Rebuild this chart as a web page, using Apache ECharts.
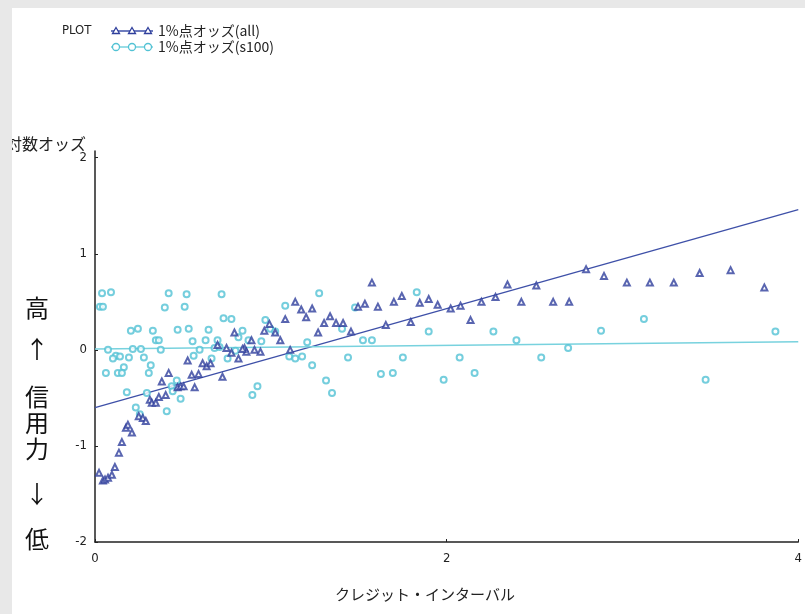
<!DOCTYPE html>
<html><head><meta charset="utf-8">
<script src="https://cdn.jsdelivr.net/npm/echarts@6/dist/echarts.min.js"></script>
<style>html,body{margin:0;padding:0;background:#fff}#c{width:805px;height:614px}</style>
</head><body><div id="c"></div>
<script>
// 1%点オッズ(all) : [credit interval, log odds]
const allPts = [
[0.023,-1.28],[0.045,-1.36],[0.057,-1.35],[0.074,-1.33],[0.096,-1.30],[0.113,-1.22],[0.136,-1.07],[0.153,-0.96],
[0.176,-0.81],[0.187,-0.78],[0.210,-0.86],[0.249,-0.69],[0.272,-0.71],[0.289,-0.74],[0.312,-0.52],[0.323,-0.55],
[0.346,-0.55],[0.363,-0.49],[0.402,-0.47],[0.380,-0.33],[0.419,-0.24],[0.470,-0.39],[0.487,-0.38],[0.504,-0.38],
[0.567,-0.39],[0.527,-0.11],[0.550,-0.26],[0.589,-0.25],[0.612,-0.14],[0.635,-0.17],[0.657,-0.14],[0.725,-0.28],
[0.748,0.02],[0.776,-0.03],[0.816,-0.09],[0.793,0.18],[0.850,0.02],[0.861,-0.02],[0.907,0.00],[0.941,-0.02],
[0.890,0.10],[0.963,0.20],[0.992,0.27],[1.025,0.18],[1.054,0.10],[0.839,0.01],[0.697,0.05],[1.082,0.32],
[1.110,0.00],[1.139,0.50],[1.173,0.42],[1.201,0.34],[1.235,0.43],[1.269,0.18],[1.303,0.28],[1.337,0.35],
[1.371,0.28],[1.411,0.28],[1.456,0.19],[1.496,0.45],[1.535,0.48],[1.575,0.70],[1.609,0.45],[1.654,0.26],
[1.700,0.50],[1.745,0.56],[1.796,0.29],[1.847,0.49],[1.898,0.53],[1.949,0.47],[2.023,0.43],[2.079,0.46],
[2.136,0.31],[2.198,0.50],[2.278,0.55],[2.346,0.68],[2.425,0.50],[2.510,0.67],[2.606,0.50],[2.697,0.50],
[2.793,0.84],[2.895,0.77],[3.025,0.70],[3.156,0.70],[3.292,0.70],[3.439,0.80],[3.615,0.83],[3.807,0.65]
];
// 1%点オッズ(s100)
const s100Pts = [
[0.040,0.59],[0.091,0.60],[0.419,0.59],[0.521,0.58],[0.720,0.58],[0.028,0.45],[0.045,0.45],[0.397,0.44],
[0.510,0.45],[0.204,0.20],[0.244,0.22],[0.329,0.20],[0.470,0.21],[0.533,0.22],[0.646,0.21],[0.731,0.33],
[0.776,0.32],[0.969,0.31],[0.839,0.20],[0.346,0.10],[0.363,0.10],[0.816,0.13],[0.873,0.10],[0.555,0.09],
[0.629,0.10],[0.697,0.10],[0.946,0.09],[0.074,0.00],[0.215,0.01],[0.261,0.01],[0.374,0.00],[0.595,0.00],
[0.680,0.02],[0.708,0.03],[0.799,-0.01],[0.119,-0.06],[0.142,-0.07],[0.102,-0.09],[0.193,-0.08],[0.278,-0.08],
[0.164,-0.18],[0.317,-0.16],[0.062,-0.24],[0.130,-0.24],[0.153,-0.24],[0.306,-0.24],[0.561,-0.06],[0.663,-0.09],
[0.754,-0.09],[0.465,-0.32],[0.436,-0.38],[0.442,-0.43],[0.487,-0.51],[0.408,-0.64],[0.295,-0.45],[0.181,-0.44],
[0.232,-0.60],[0.255,-0.67],[0.924,-0.38],[0.895,-0.47],[1.275,0.59],[1.082,0.46],[0.997,0.22],[1.025,0.19],
[1.207,0.08],[1.405,0.22],[1.479,0.44],[1.830,0.60],[1.898,0.19],[1.524,0.10],[1.575,0.10],[1.105,-0.07],
[1.139,-0.09],[1.178,-0.07],[1.235,-0.16],[1.439,-0.08],[1.751,-0.08],[1.314,-0.32],[1.348,-0.45],[1.626,-0.25],
[1.694,-0.24],[2.266,0.19],[2.397,0.10],[2.074,-0.08],[2.538,-0.08],[2.691,0.02],[2.159,-0.24],[1.983,-0.31],
[2.878,0.20],[3.122,0.32],[3.473,-0.31],[3.870,0.19]
];
// fitted lines
const allFit = [[0,-0.60],[4,1.46]];
const s100Fit = [[0,0.01],[4,0.085]];
const xTicks = [0,2,4];
const yTicks = [-2,-1,0,1,2];

const C_ALL = '#2f3f9c', C_ALL_L = '#3e50a8';
const C_S = '#52c2d4', C_S_L = '#78d2de';
const numFont = "'Liberation Sans Narrow','DejaVu Sans Condensed',sans-serif";
const jpFont = "'Noto Sans CJK JP',sans-serif";

const chart = echarts.init(document.getElementById('c'), null, {renderer:'canvas'});
const tri = (cx,cy)=>({type:'polygon',shape:{points:[[cx,cy-3.5],[cx+3.5,cy+2.5],[cx-3.5,cy+2.5]]},style:{fill:'#fff',stroke:C_ALL,lineWidth:1.3},z:20});
const cir = (cx,cy)=>({type:'circle',shape:{cx:cx,cy:cy,r:3.5},style:{fill:'#fff',stroke:C_S,lineWidth:1.3},z:20});
const sideChars = [['高',308],['↑',349],['信',397],['用',423],['力',449],['↓',494],['低',539]];

chart.setOption({
  animation:false,
  backgroundColor:'#fff',
  grid:{left:95,right:4,top:151,bottom:72},
  xAxis:{type:'value',min:0,max:4,
    axisLine:{onZero:false,lineStyle:{color:'#222',width:1.5}},
    axisTick:{show:true,inside:true,length:3,lineStyle:{color:'#222'},customValues:xTicks},
    axisLabel:{color:'#222',fontSize:13,fontFamily:numFont,margin:10,customValues:xTicks},
    splitLine:{show:false}},
  yAxis:{type:'value',min:-2,max:2.07,
    axisLine:{show:true,onZero:false,lineStyle:{color:'#222',width:1.5}},
    axisTick:{show:true,inside:true,length:3,lineStyle:{color:'#222'},customValues:yTicks},
    axisLabel:{color:'#222',fontSize:13,fontFamily:numFont,margin:8,customValues:yTicks},
    splitLine:{show:false}},
  series:[
    {type:'line',data:allFit,symbol:'none',lineStyle:{color:C_ALL_L,width:1.3},z:3,silent:true},
    {type:'line',data:s100Fit,symbol:'none',lineStyle:{color:C_S_L,width:1.5},z:3,silent:true},
    {type:'scatter',data:s100Pts,symbol:'emptyCircle',symbolSize:6,itemStyle:{color:C_S,borderColor:C_S,borderWidth:1.4},z:4},
    {type:'scatter',data:allPts,symbol:'emptyTriangle',symbolSize:6,itemStyle:{color:C_ALL,borderColor:C_ALL,borderWidth:1.4},z:5}
  ],
  graphic:[
    {type:'text',x:86,y:144,style:{text:'対数オッズ',font:'16px '+jpFont,fill:'#222',align:'right',verticalAlign:'middle'},z:10},
    ...sideChars.map(([t,y])=>({type:'text',x:37,y:y,style:{text:t,font:'24px '+jpFont,fill:'#111',align:'center',verticalAlign:'middle'},z:10})),
    {type:'text',x:425,y:594,style:{text:'クレジット・インターバル',font:'15px '+jpFont,fill:'#222',align:'center',verticalAlign:'middle'},z:10},
    {type:'text',x:62,y:31,style:{text:'PLOT',font:'13px '+numFont,fill:'#222',verticalAlign:'middle'},z:10},
    {type:'line',shape:{x1:111,y1:31,x2:153,y2:31},style:{stroke:C_ALL_L,lineWidth:1.3},z:15},
    tri(116,31),tri(132,31),tri(148,31),
    {type:'text',x:158,y:31,style:{text:'1%点オッズ(all)',font:'14px '+jpFont,fill:'#222',verticalAlign:'middle'},z:10},
    {type:'line',shape:{x1:111,y1:47,x2:153,y2:47},style:{stroke:C_S_L,lineWidth:1.3},z:15},
    cir(116,47),cir(132,47),cir(148,47),
    {type:'text',x:158,y:47,style:{text:'1%点オッズ(s100)',font:'14px '+jpFont,fill:'#222',verticalAlign:'middle'},z:10},
    {type:'rect',shape:{x:0,y:0,width:805,height:8},style:{fill:'#e8e8e8'},z:50},
    {type:'rect',shape:{x:0,y:0,width:12,height:614},style:{fill:'#e8e8e8'},z:50}
  ]
});
</script></body></html>
